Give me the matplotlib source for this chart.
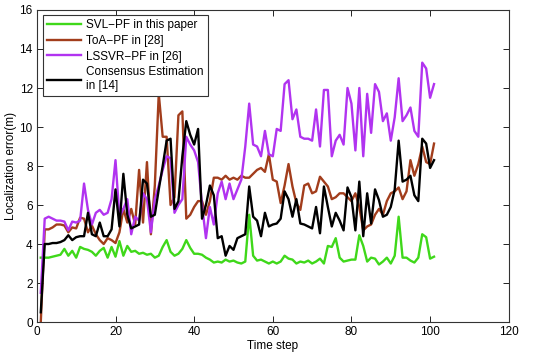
import numpy as np
import matplotlib
matplotlib.use('Agg')
import matplotlib.pyplot as plt

plt.rcParams['font.family'] = ['Liberation Sans', 'DejaVu Sans']

# time steps 1..101
time_step = list(range(1, 102))

svl_pf = [3.3, 3.3, 3.3, 3.35, 3.4, 3.45, 3.75, 3.4, 3.65, 3.3,
          3.85, 3.75, 3.7, 3.6, 3.4, 3.65, 3.8, 3.3, 3.85, 3.35,
          4.15, 3.4, 3.9, 3.6, 3.65, 3.5, 3.55, 3.45, 3.5, 3.3,
          3.4, 3.85, 4.2, 3.6, 3.4, 3.5, 3.75, 4.2, 3.8, 3.5,
          3.5, 3.45, 3.3, 3.2, 3.05, 3.1, 3.05, 3.2, 3.1, 3.15,
          3.05, 3.0, 3.1, 5.5, 3.4, 3.15, 3.2, 3.1, 3.0, 3.1,
          3.0, 3.1, 3.4, 3.25, 3.2, 3.0, 3.1, 3.05, 3.15, 3.0,
          3.1, 3.25, 3.0, 3.9, 3.85, 4.3, 3.3, 3.1, 3.15, 3.2,
          3.2, 4.45, 3.9, 3.1, 3.3, 3.25, 2.95, 3.1, 3.3, 3.0,
          3.4, 5.4, 3.3, 3.3, 3.15, 3.05, 3.3, 4.5, 4.35, 3.25,
          3.35]

toa_pf = [0.0, 4.75, 4.75, 4.85, 5.0, 5.0, 4.95, 4.6, 4.85, 4.8,
          5.35, 5.3, 4.6, 4.95, 4.5, 4.2, 4.0, 4.3, 4.2, 4.05,
          4.6, 5.8, 5.1, 5.8, 5.0, 7.8, 5.1, 8.2, 4.5, 7.0,
          11.7, 9.5, 9.5, 6.0, 6.4, 10.6, 10.8, 5.3, 5.5, 5.9,
          6.2, 6.2, 5.5, 6.2, 7.4, 7.4, 7.3, 7.5, 7.3, 7.4,
          7.3, 7.5, 7.4, 7.4, 7.6, 7.8, 7.9, 7.7, 8.6, 7.3,
          7.2, 6.1, 7.0, 8.1, 6.95, 6.1, 5.75, 7.0, 7.1, 6.6,
          6.7, 7.45, 7.2, 6.95, 6.3, 6.4, 6.6, 6.6, 6.4, 6.2,
          6.6, 5.9, 4.7, 4.9, 5.0, 5.5, 5.8, 5.5, 6.2, 6.6,
          6.7, 6.9, 6.3, 6.7, 8.3, 7.5, 8.1, 9.0, 8.2, 8.1,
          9.15]

lssvr_pf = [1.5, 5.3, 5.4, 5.3, 5.2, 5.2, 5.15, 4.7, 5.15, 5.1,
            5.2, 7.1, 5.75, 5.0, 5.6, 5.75, 5.5, 5.6, 6.3, 8.3,
            5.4, 5.8, 6.3, 4.5, 5.4, 5.2, 6.6, 6.3, 4.6, 6.3,
            7.0, 7.8, 8.5, 8.4, 5.6, 6.0, 6.3, 9.5, 9.1, 8.8,
            8.2, 6.0, 4.3, 5.9, 5.0, 6.6, 7.2, 6.3, 7.1, 6.3,
            6.8, 7.3, 9.0, 11.2, 9.1, 9.0, 8.5, 9.8, 8.6, 8.5,
            9.9, 9.8, 12.2, 12.4, 10.4, 10.9, 9.5, 9.4, 9.4, 9.3,
            10.9, 9.0, 11.9, 11.9, 8.5, 9.3, 9.6, 9.1, 12.0, 11.2,
            8.8, 12.0, 8.5, 11.7, 9.7, 12.2, 11.8, 10.3, 10.7, 9.3,
            10.5, 12.5, 10.3, 10.6, 11.0, 9.8, 9.5, 13.3, 13.0, 11.5,
            12.2]

consensus = [0.5, 4.0, 4.0, 4.05, 4.05, 4.1, 4.2, 4.45, 4.2, 4.35,
             4.4, 4.4, 5.6, 4.5, 4.4, 5.1, 4.4, 4.4, 4.75, 6.8,
             4.9, 7.6, 5.5, 4.8, 4.9, 5.0, 7.3, 7.1, 5.4, 5.5,
             6.8, 8.0, 9.3, 9.4, 5.8, 6.2, 8.5, 10.3, 9.6, 9.1,
             9.9, 5.3, 6.0, 7.0, 6.5, 4.3, 4.4, 3.4, 3.9, 3.7,
             4.3, 4.4, 4.5, 6.95, 5.4, 5.2, 4.4, 5.6, 4.9, 5.0,
             5.05, 5.3, 6.7, 6.3, 5.4, 6.3, 5.05, 5.0, 4.9, 4.8,
             5.9, 4.55, 6.95, 5.9, 4.9, 5.6, 5.2, 4.7, 6.9, 6.4,
             4.7, 7.2, 4.4, 6.6, 5.05, 6.8, 6.25, 5.4, 5.5, 5.9,
             6.8, 9.3, 7.2, 7.3, 7.5, 6.5, 6.2, 9.4, 9.15, 7.9,
             8.3]

labels = ['SVL\u2212PF in this paper', 'ToA\u2212PF in [28]',
          'LSSVR\u2212PF in [26]', 'Consensus Estimation\nin [14]']
colors = ['#3fd81a', '#a23d1c', '#b133f0', 'black']

fig = plt.figure(figsize=(5.5, 3.57), dpi=100)
ax = fig.add_axes([0.067, 0.098, 0.858, 0.874])

lw = 1.7
ax.plot(time_step, svl_pf, color=colors[0], lw=lw, label=labels[0])
ax.plot(time_step, toa_pf, color=colors[1], lw=lw, label=labels[1])
ax.plot(time_step, lssvr_pf, color=colors[2], lw=lw, label=labels[2])
ax.plot(time_step, consensus, color=colors[3], lw=lw, label=labels[3])

ax.set_xlim(0, 120)
ax.set_ylim(0, 16)
ax.set_xticks(np.arange(0, 121, 20))
ax.set_yticks(np.arange(0, 17, 2))
ax.tick_params(direction='in', top=True, right=True, length=4, width=0.6,
               labelsize=8.5, pad=3)
for s in ax.spines.values():
    s.set_linewidth(0.8)
    s.set_color('#333333')
ax.set_xlabel('Time step', fontsize=8.5, labelpad=1)
ax.set_ylabel('Localization error(m)', fontsize=8.5, labelpad=2)

leg = ax.legend(loc='upper left', bbox_to_anchor=(0.012, 0.985), fontsize=8.5,
                fancybox=False, edgecolor='#333333', framealpha=1,
                handlelength=2.9, handletextpad=0.45, labelspacing=0.33,
                borderpad=0.35, borderaxespad=0)
leg.get_frame().set_linewidth(0.8)

fig.savefig('out.png', dpi=100)
